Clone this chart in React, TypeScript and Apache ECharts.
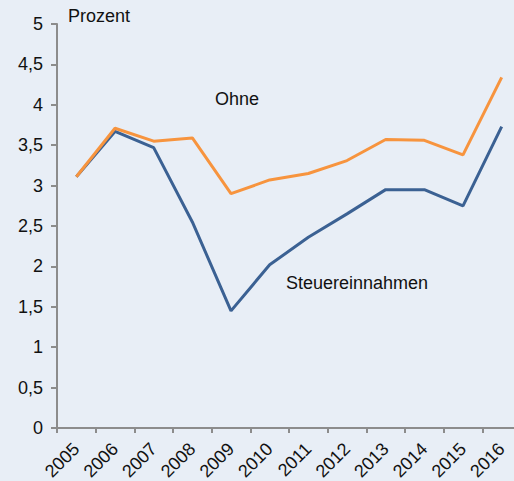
import React, { useEffect, useRef } from "react";
import * as echarts from "echarts";

const years = ["2005", "2006", "2007", "2008", "2009", "2010", "2011", "2012", "2013", "2014", "2015", "2016"];
const ohne = [3.11, 3.71, 3.55, 3.59, 2.9, 3.07, 3.15, 3.31, 3.57, 3.56, 3.38, 4.34];
const steuereinnahmen = [3.11, 3.67, 3.47, 2.55, 1.45, 2.02, 2.36, 2.65, 2.95, 2.95, 2.75, 3.73];
const yTicks = { min: 0, max: 5, interval: 0.5 };
const unitLabel = "Prozent";
const ohneLabel = "Ohne";
const steuerLabel = "Steuereinnahmen";

const FONT = "'Liberation Sans', Arial, sans-serif";

export default function App() {
  const ref = useRef<HTMLDivElement>(null);
  useEffect(() => {
    if (!ref.current) return;
    const chart = echarts.init(ref.current, null, { renderer: "svg" });
    chart.setOption({
      animation: false,
      backgroundColor: "#E8EEF6",
      textStyle: { fontFamily: FONT },
      grid: { left: 57, top: 24, bottom: 53, width: 464, containLabel: false, outerBoundsMode: "none" },
      xAxis: {
        type: "category",
        data: years,
        boundaryGap: true,
        axisLine: { lineStyle: { color: "#8c8c8c", width: 2 } },
        axisTick: { show: true, length: 5, lineStyle: { color: "#8c8c8c", width: 2 } },
        axisLabel: { rotate: 45, fontSize: 18, color: "#111", fontFamily: FONT, margin: 18 },
        splitLine: { show: false },
      },
      yAxis: {
        type: "value",
        min: yTicks.min,
        max: yTicks.max,
        interval: yTicks.interval,
        axisLine: { show: true, lineStyle: { color: "#8c8c8c", width: 2 } },
        axisTick: { show: true, length: 6, lineStyle: { color: "#8c8c8c", width: 2 } },
        axisLabel: {
          fontSize: 18,
          color: "#111",
          fontFamily: FONT,
          margin: 14,
          formatter: (v: number) => String(v).replace(".", ","),
        },
        splitLine: { show: false },
      },
      series: [
        {
          name: ohneLabel,
          type: "line",
          data: ohne,
          symbol: "none",
          lineStyle: { color: "#F7943E", width: 3 },
          z: 3,
        },
        {
          name: steuerLabel,
          type: "line",
          data: steuereinnahmen,
          symbol: "none",
          lineStyle: { color: "#3B6193", width: 3 },
          z: 2,
        },
      ],
      graphic: [
        { type: "text", left: 68, top: 7, style: { text: unitLabel, fontSize: 18, fill: "#111", fontFamily: FONT } },
        { type: "text", left: 215, top: 90, style: { text: ohneLabel, fontSize: 18, fill: "#111", fontFamily: FONT } },
        { type: "text", left: 286, top: 274, style: { text: steuerLabel, fontSize: 18, fill: "#111", fontFamily: FONT } },
      ],
    });
    return () => chart.dispose();
  }, []);
  return (
    <div
      ref={ref}
      style={{ position: "fixed", left: 0, top: 0, width: 514, height: 481 }}
    />
  );
}
